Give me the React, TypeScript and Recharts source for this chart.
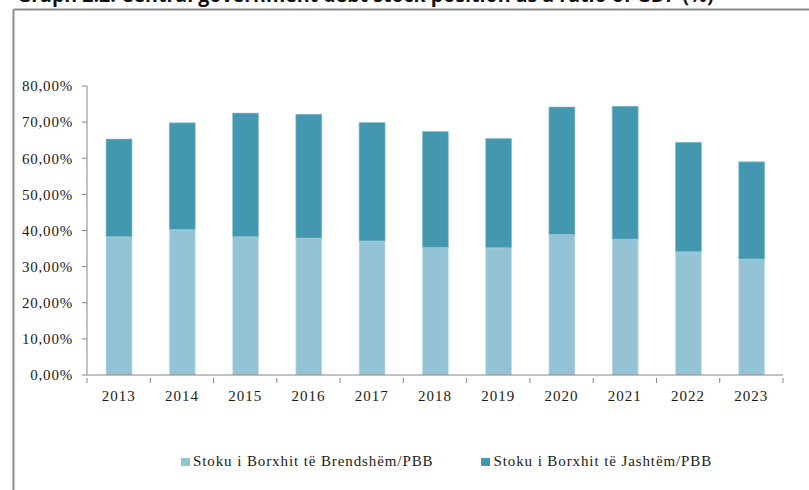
import React from 'react';
import { BarChart, Bar, XAxis, YAxis, Legend } from 'recharts';

const years = ['2013', '2014', '2015', '2016', '2017', '2018', '2019', '2020', '2021', '2022', '2023'];
const domesticDebt = [38.3, 40.3, 38.3, 37.9, 37.1, 35.3, 35.2, 38.9, 37.6, 34.1, 32.1];
const externalDebt = [27.0, 29.5, 34.2, 34.3, 32.8, 32.1, 30.3, 35.3, 36.8, 30.3, 26.9];
const yTicks = [0, 10, 20, 30, 40, 50, 60, 70, 80];

const seriesNames = ['Stoku i Borxhit të Brendshëm/PBB', 'Stoku i Borxhit të Jashtëm/PBB'];
const colors = ['#93c3d5', '#4398af'];

const W = 809;
const H = 490;
const margin = { top: 86, right: 26, left: 0, bottom: 85 };
const yAxisWidth = 87;
const plotWidth = W - yAxisWidth - margin.right;
const band = plotWidth / years.length;

const serif = '"Liberation Serif", "Times New Roman", serif';

const data = years.map((y, i) => ({
  year: y,
  domestic: domesticDebt[i],
  external: externalDebt[i],
}));

const fmtPct = (v: number) => `${v.toFixed(2).replace('.', ',')}%`;

const YearTick = (props: any) => {
  const { x, y, payload, index } = props;
  const last = index === years.length - 1;
  return (
    <g>
      <line x1={x - band / 2} y1={y - 5} x2={x - band / 2} y2={y} stroke="#868686" />
      {last && <line x1={x + band / 2} y1={y - 5} x2={x + band / 2} y2={y} stroke="#868686" />}
      <text x={x} y={y + 18} textAnchor="middle" fill="#1a1a1a" fontSize={15} fontFamily={serif} letterSpacing={1}>
        {payload.value}
      </text>
    </g>
  );
};

// legend drawn by hand so the two items sit where the reference has them
const LegendBox = () => (
  <div style={{ display: 'flex', alignItems: 'center', fontFamily: serif, fontSize: 15, color: '#1a1a1a', letterSpacing: 0.9, paddingLeft: 181 }}>
    {seriesNames.map((n, i) => (
      <div key={n} style={{ display: 'flex', alignItems: 'center', marginRight: 48 }}>
        <span style={{ display: 'inline-block', width: 9, height: 8, background: colors[i], marginRight: 3 }} />
        <span>{n}</span>
      </div>
    ))}
  </div>
);

export default function App() {
  return (
    <div style={{ position: 'absolute', left: 0, top: 0, width: W, height: H, background: '#fff', overflow: 'hidden' }}>
      <svg width={W} height={H} style={{ position: 'absolute', left: 0, top: 0 }}>
        <text x={17} y={1.5} fontFamily='"Open Sans", sans-serif' fontWeight={700} fontSize={19.6} fill="#111">
          Graph 2.2: Central government debt stock position as a ratio of GDP (%)
        </text>
        <line x1={13.5} y1={9.5} x2={W} y2={9.5} stroke="#8c8c8c" strokeWidth={2} />
        <line x1={13.5} y1={9.5} x2={13.5} y2={H} stroke="#8c8c8c" strokeWidth={2} />
      </svg>
      <div style={{ position: 'absolute', left: 0, top: 0 }}>
        <BarChart width={W} height={H} data={data} margin={margin}>
          <XAxis
            dataKey="year"
            stroke="#868686"
            tickLine={false}
            tick={<YearTick />}
            interval={0}
            height={30}
          />
          <YAxis
            width={yAxisWidth}
            domain={[0, 80]}
            ticks={yTicks}
            interval={0}
            tickFormatter={fmtPct}
            stroke="#868686"
            tickSize={5}
            tickMargin={9}
            tick={{ fill: '#1a1a1a', fontSize: 15, fontFamily: serif, letterSpacing: 0.8 }}
          />
          <Legend
            layout="horizontal"
            verticalAlign="middle"
            align="center"
            content={<LegendBox />}
            wrapperStyle={{ top: 453, left: 0, width: W }}
          />
          <Bar dataKey="domestic" name={seriesNames[0]} stackId="a" fill={colors[0]} barSize={26} stroke="#cfe4ec" strokeWidth={0.6} isAnimationActive={false} />
          <Bar dataKey="external" name={seriesNames[1]} stackId="a" fill={colors[1]} barSize={26} stroke="#8fc1d1" strokeWidth={0.6} isAnimationActive={false} />
        </BarChart>
      </div>
    </div>
  );
}
